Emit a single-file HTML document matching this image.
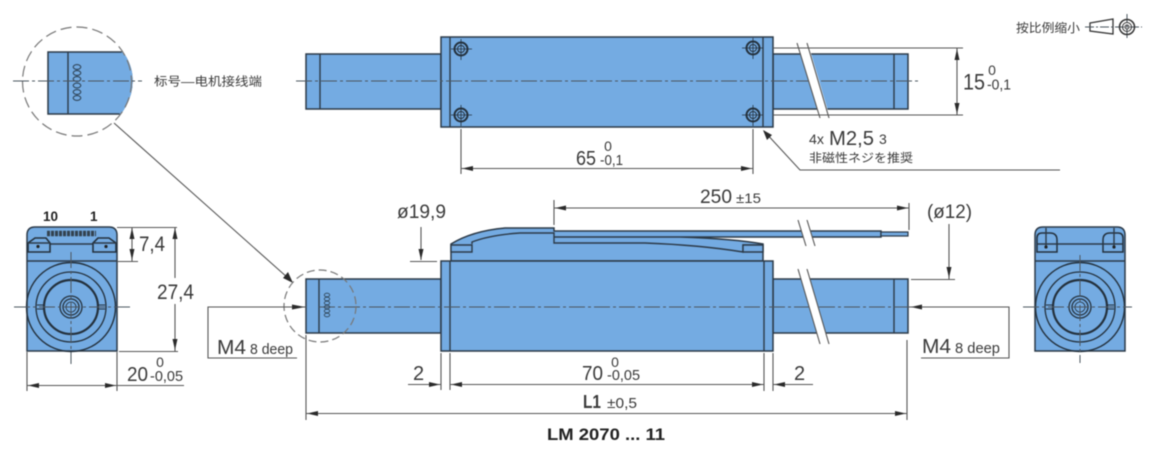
<!DOCTYPE html>
<html lang="zh">
<head>
<meta charset="utf-8">
<style>
html,body{margin:0;padding:0;background:#fff;width:1149px;height:459px;overflow:hidden}
svg{display:block;filter:blur(.5px)}
text{font-family:"Liberation Sans","Noto Sans CJK JP",sans-serif;fill:#3a3a3a}
.b{fill:#74abe2;stroke:#2c3a48;stroke-width:1.5}
.n{fill:none;stroke:#2c3a48;stroke-width:1.4}
.d{fill:none;stroke:#555;stroke-width:1.1}
.c{fill:none;stroke:#4c5660;stroke-width:1;stroke-dasharray:16 3 3 3}
.g{fill:none;stroke:#777;stroke-width:1.2;stroke-dasharray:11 5}
.w{fill:#fff;stroke:none}
.a{fill:#2a2a2a;stroke:none}
</style>
</head>
<body>
<svg width="1149" height="459" viewBox="0 0 1149 459" xmlns="http://www.w3.org/2000/svg">
<!-- Detail circle -->
<path d="M48 52H122Q132 65 132 81Q132 98 120 114H48Z" class="b"/>
<path d="M122 52Q132 65 132 81Q132 98 120 114" fill="#74abe2" stroke="#74abe2" stroke-width="1.6"/>
<line x1="68" y1="52" x2="68" y2="114" class="n"/>
<g fill="none" stroke="#2f4558" stroke-width="1.100">
<ellipse cx="77" cy="67" rx="3.800" ry="2.400"/><ellipse cx="77" cy="73" rx="3.800" ry="2.400"/><ellipse cx="77" cy="79" rx="3.800" ry="2.400"/><ellipse cx="77" cy="85.500" rx="3.800" ry="2.400"/><ellipse cx="77" cy="92" rx="3.800" ry="2.400"/><ellipse cx="77" cy="98" rx="3.800" ry="2.400"/>
</g>
<circle cx="77" cy="81.500" r="54.500" class="g"/>
<line x1="13" y1="81" x2="142" y2="81" class="c"/>
<text x="154" y="85.500" font-size="12" textLength="108" lengthAdjust="spacingAndGlyphs">标号—电机接线端</text>
<line x1="114" y1="123" x2="288" y2="278" class="d"/>
<path d="M293 283L283 278L288 272Z" class="a"/>

<!-- Top view -->
<rect x="306" y="54" width="135" height="55" class="b"/>
<line x1="320" y1="54" x2="320" y2="109" class="n"/>
<rect x="773" y="54" width="135" height="55" class="b"/>
<line x1="894" y1="54" x2="894" y2="109" class="n"/>
<rect x="441" y="37" width="332" height="90" class="b"/>
<line x1="450" y1="37" x2="450" y2="127" class="n"/>
<line x1="763" y1="37" x2="763" y2="127" class="n"/>
<line x1="296" y1="81" x2="920" y2="81" class="c"/>
<path d="M797 43H808L830 118H820Z" class="w"/>
<line x1="797" y1="43" x2="820" y2="118" class="d"/>
<line x1="807" y1="43" x2="829" y2="118" class="d"/>
<g fill="none" stroke="#24313d">
<circle cx="461" cy="49" r="6.500" stroke-width="2"/><circle cx="461" cy="49" r="3.500" stroke-width="1"/><path d="M451 49H472M461 39V60" stroke-width=".8"/>
<circle cx="461" cy="115" r="6.500" stroke-width="2"/><circle cx="461" cy="115" r="3.500" stroke-width="1"/><path d="M451 115H472M461 105V126" stroke-width=".8"/>
<circle cx="753" cy="48" r="6.500" stroke-width="2"/><circle cx="753" cy="48" r="3.500" stroke-width="1"/><path d="M742 48H763M753 38V59" stroke-width=".8"/>
<circle cx="753" cy="115" r="6.500" stroke-width="2"/><circle cx="753" cy="115" r="3.500" stroke-width="1"/><path d="M742 115H763M753 105V126" stroke-width=".8"/>
</g>
<!-- Top dims -->
<path d="M773 48H963M773 115H963M957 48V115" class="d"/>
<path d="M957 49L954.500 60H959.500ZM957 114L954.500 103H959.500Z" class="a"/>
<text x="963" y="89.500" font-size="22" textLength="22" lengthAdjust="spacingAndGlyphs">15</text>
<text x="992" y="75" font-size="14" text-anchor="middle">0</text>
<text x="987" y="89.500" font-size="15" textLength="24" lengthAdjust="spacingAndGlyphs">-0,1</text>
<path d="M461 129V174M753 129V174M461 168.500H753" class="d"/>
<path d="M462 168.500L473 166V171ZM752 168.500L741 166V171Z" class="a"/>
<text x="576" y="165" font-size="20" textLength="20" lengthAdjust="spacingAndGlyphs">65</text>
<text x="608" y="151" font-size="14" text-anchor="middle">0</text>
<text x="600" y="165" font-size="15" textLength="23" lengthAdjust="spacingAndGlyphs">-0,1</text>
<!-- Leader -->
<path d="M764 131L800 170H1060" class="d"/>
<path d="M763 130L772 135L767 140Z" class="a"/>
<text x="809" y="144" font-size="14" textLength="15" lengthAdjust="spacingAndGlyphs">4x</text>
<text x="829" y="145" font-size="20" textLength="45" lengthAdjust="spacingAndGlyphs">M2,5</text>
<text x="879" y="144" font-size="14">3</text>
<text x="809" y="162" font-size="12" textLength="104" lengthAdjust="spacingAndGlyphs">非磁性ネジを推奨</text>
<!-- Projection symbol -->
<text x="1016" y="32" font-size="12" textLength="64" lengthAdjust="spacingAndGlyphs">按比例缩小</text>
<path d="M1090 23L1113 19V34L1090 31Z" fill="none" stroke="#333" stroke-width="1.300"/>
<line x1="1085" y1="27" x2="1142" y2="27" class="c" style="stroke-dasharray:9 2 2 2"/>
<line x1="1127" y1="14" x2="1127" y2="40" class="c" style="stroke-dasharray:9 2 2 2"/>
<circle cx="1127" cy="27" r="7.500" fill="none" stroke="#333" stroke-width="1.500"/>
<circle cx="1127" cy="27" r="4.500" fill="none" stroke="#333"/>
<circle cx="1127" cy="27" r="2" fill="none" stroke="#333"/>

<!-- Side view -->
<path d="M451 261V244Q472 231 505 228H554V231H881V237H680Q735 239 763 244V261Z" class="b"/>
<path d="M881 232H908V236H881Z" fill="#74abe2" stroke="#2c3a48" stroke-width="1.200"/>
<path d="M472 244V242Q490 235 520 233H554V243H645Q700 245 743 252V245L763 245" class="n" stroke-width="1.300"/>
<path d="M451 245H472V252H451Z" fill="#74abe2" stroke="#2c3a48" stroke-width="1.400"/>
<path d="M743 245H763V252H743Z" fill="#74abe2" stroke="#2c3a48" stroke-width="1.400"/>
<line x1="554" y1="237" x2="680" y2="237" class="n"/>
<rect x="306" y="279" width="135" height="54" class="b"/>
<line x1="319" y1="279" x2="319" y2="333" class="n"/>
<rect x="773" y="279" width="135" height="54" class="b"/>
<line x1="894" y1="279" x2="894" y2="333" class="n"/>
<rect x="441" y="261" width="332" height="90" class="b"/>
<line x1="450" y1="261" x2="450" y2="351" class="n"/>
<line x1="764" y1="261" x2="764" y2="351" class="n"/>
<line x1="319" y1="307" x2="910" y2="307" class="c"/>
<!-- breaks -->
<path d="M798 220H807L815 246H806Z" class="w"/>
<line x1="798" y1="220" x2="806" y2="246" class="d"/>
<line x1="807" y1="220" x2="815" y2="246" class="d"/>
<path d="M798 269H807L829 344H820Z" class="w"/>
<line x1="798" y1="269" x2="820" y2="344" class="d"/>
<line x1="807" y1="269" x2="829" y2="344" class="d"/>
<!-- detail marker -->
<circle cx="320" cy="306" r="36" class="g" style="stroke-dasharray:8 4"/>
<g fill="none" stroke="#2f4558" stroke-width=".9">
<ellipse cx="327" cy="295" rx="2.700" ry="1.800"/><ellipse cx="327" cy="299" rx="2.700" ry="1.800"/><ellipse cx="327" cy="303" rx="2.700" ry="1.800"/><ellipse cx="327" cy="307" rx="2.700" ry="1.800"/><ellipse cx="327" cy="311" rx="2.700" ry="1.800"/><ellipse cx="327" cy="315" rx="2.700" ry="1.800"/>
</g>
<!-- side dims -->
<path d="M554 200V225M909 203V230M554 208H909" class="d"/>
<path d="M555 208L566 205.500V210.500ZM908 208L897 205.500V210.500Z" class="a"/>
<text x="700" y="203" font-size="19" textLength="32" lengthAdjust="spacingAndGlyphs">250</text>
<text x="736" y="203" font-size="14" textLength="25" lengthAdjust="spacingAndGlyphs">±15</text>
<text x="397" y="218" font-size="19" textLength="49" lengthAdjust="spacingAndGlyphs">ø19,9</text>
<path d="M421 227V260M410 261.500H437" class="d"/>
<path d="M421 260L418.500 249H423.500Z" class="a"/>
<text x="927" y="218" font-size="19" textLength="45" lengthAdjust="spacingAndGlyphs">(ø12)</text>
<path d="M949 224V279M911 279.500H955" class="d"/>
<path d="M949 278L946.500 267H951.500Z" class="a"/>
<!-- M4 -->
<path d="M306 307H208V358H297" class="d"/>
<path d="M305 307L292 304.500V309.500Z" class="a"/>
<text x="217" y="354" font-size="20" textLength="29" lengthAdjust="spacingAndGlyphs">M4</text>
<text x="250" y="354" font-size="14.500" textLength="43" lengthAdjust="spacingAndGlyphs">8 deep</text>
<path d="M910 307H1009V358H921" class="d"/>
<path d="M911 307L922 304.500V309.500Z" class="a"/>
<text x="922" y="353" font-size="20" textLength="29" lengthAdjust="spacingAndGlyphs">M4</text>
<text x="955" y="353" font-size="14.500" textLength="45" lengthAdjust="spacingAndGlyphs">8 deep</text>
<!-- bottom dims -->
<path d="M441 353V390M450 353V390M764 353V391M773 353V391M408 384.500H441M450 384.500H764M773 384.500H813" class="d"/>
<path d="M440 384.500L429 382V387ZM451 384.500L462 382V387ZM763 384.500L752 382V387ZM774 384.500L785 382V387Z" class="a"/>
<text x="413" y="380" font-size="20">2</text>
<text x="794" y="380" font-size="20">2</text>
<text x="582" y="380" font-size="20" textLength="21" lengthAdjust="spacingAndGlyphs">70</text>
<text x="615" y="367" font-size="14" text-anchor="middle">0</text>
<text x="607" y="380" font-size="15" textLength="33" lengthAdjust="spacingAndGlyphs">-0,05</text>
<path d="M306 335V420M907 340V420M306 413.500H907" class="d"/>
<path d="M307 413.500L318 411V416ZM906 413.500L895 411V416Z" class="a"/>
<text x="583" y="408" font-size="18" font-weight="bold" textLength="18" lengthAdjust="spacingAndGlyphs">L1</text>
<text x="607" y="408" font-size="15" textLength="30" lengthAdjust="spacingAndGlyphs">±0,5</text>
<text x="547" y="440" font-size="16.500" font-weight="bold" textLength="118" lengthAdjust="spacingAndGlyphs" style="fill:#222">LM 2070 ... 11</text>

<!-- Left end view -->
<path d="M27 351V235Q27 227 35 227H109Q117 227 117 235V351Z" class="b"/>
<line x1="27" y1="261" x2="117" y2="261" class="n"/>
<line x1="50" y1="244" x2="93" y2="244" class="n"/>
<line x1="47" y1="233.500" x2="96" y2="233.500" stroke="#33424f" stroke-width="5.500" stroke-dasharray="3 1"/>
<path d="M28 252V243L35 238H46L50 243V252Z" fill="#74abe2" stroke="#24313d" stroke-width="1.600"/>
<path d="M116 252V243L109 238H98L93 243V252Z" fill="#74abe2" stroke="#24313d" stroke-width="1.600"/>
<path d="M28 243H50M93 243H116" class="n" stroke-width="1.200"/>
<circle cx="38" cy="246.500" r="1.600" fill="#222"/><circle cx="106" cy="246.500" r="1.600" fill="#222"/>
<g fill="none" stroke="#24313d">
<circle cx="71" cy="307" r="44.500" stroke-width="1.400"/>
<circle cx="71" cy="307" r="35" stroke-width="1.300"/>
<circle cx="71" cy="307" r="27" stroke-width="2.200"/>
<circle cx="71" cy="307" r="11" stroke-width="1.300"/>
<circle cx="71" cy="307" r="8" stroke-width="1.300"/>
<circle cx="71" cy="307" r="5" stroke-width=".8"/>
<path d="M37 305H44M37 309H44M98 305H105M98 309H105" stroke-width="1"/>
</g>
<line x1="14" y1="307" x2="130" y2="307" class="c"/>
<line x1="71" y1="252" x2="71" y2="364" class="c"/>
<text x="43" y="221" font-size="13.500" font-weight="bold" style="fill:#222">10</text>
<text x="90" y="221" font-size="13.500" font-weight="bold" style="fill:#222">1</text>
<path d="M117 227.500H177M117 261.500H138M119 351.500H178M132 227V261M175 227V351" class="d"/>
<path d="M132 228L129.500 239H134.500ZM132 260L129.500 249H134.500ZM175 228L172.500 239H177.500ZM175 350L172.500 339H177.500Z" class="a"/>
<text x="139" y="251" font-size="21" textLength="26" lengthAdjust="spacingAndGlyphs">7,4</text>
<rect x="155" y="278" width="40" height="26" class="w"/>
<text x="157" y="299" font-size="21" textLength="37" lengthAdjust="spacingAndGlyphs">27,4</text>
<path d="M27 352V391M117 352V391M27 385.500H184" class="d"/>
<path d="M28 385.500L39 383V388ZM116 385.500L105 383V388Z" class="a"/>
<text x="127" y="381" font-size="20" textLength="21" lengthAdjust="spacingAndGlyphs">20</text>
<text x="160" y="367" font-size="14" text-anchor="middle">0</text>
<text x="150" y="381" font-size="15" textLength="33" lengthAdjust="spacingAndGlyphs">-0,05</text>

<!-- Right end view -->
<path d="M1035 351V235Q1035 227 1043 227H1117Q1125 227 1125 235V351Z" class="b"/>
<line x1="1035" y1="261" x2="1125" y2="261" class="n"/>
<line x1="1057" y1="244" x2="1103" y2="244" class="n"/>
<path d="M1037 252V238Q1037 233 1042 233H1050Q1057 233 1057 240V252Z" fill="#74abe2" stroke="#24313d" stroke-width="1.500"/>
<path d="M1103 252V240Q1103 233 1110 233H1118Q1123 233 1123 238V252Z" fill="#74abe2" stroke="#24313d" stroke-width="1.500"/>
<path d="M1037 244H1057M1103 244H1123M1046 228V246M1114 228V246" class="n" stroke-width="1"/>
<circle cx="1046" cy="247" r="1.600" fill="#222"/><circle cx="1114" cy="247" r="1.600" fill="#222"/>
<g fill="none" stroke="#24313d">
<circle cx="1080" cy="307" r="44.500" stroke-width="1.400"/>
<circle cx="1080" cy="307" r="35" stroke-width="1.300"/>
<circle cx="1080" cy="307" r="27" stroke-width="2.200"/>
<circle cx="1080" cy="307" r="11" stroke-width="1.300"/>
<circle cx="1080" cy="307" r="8" stroke-width="1.300"/>
<circle cx="1080" cy="307" r="5" stroke-width=".8"/>
<path d="M1046 305H1053M1046 309H1053M1107 305H1114M1107 309H1114" stroke-width="1"/>
</g>
<line x1="1023" y1="307" x2="1132" y2="307" class="c"/>
<line x1="1080" y1="255" x2="1080" y2="363" class="c"/>
</svg>
</body>
</html>
